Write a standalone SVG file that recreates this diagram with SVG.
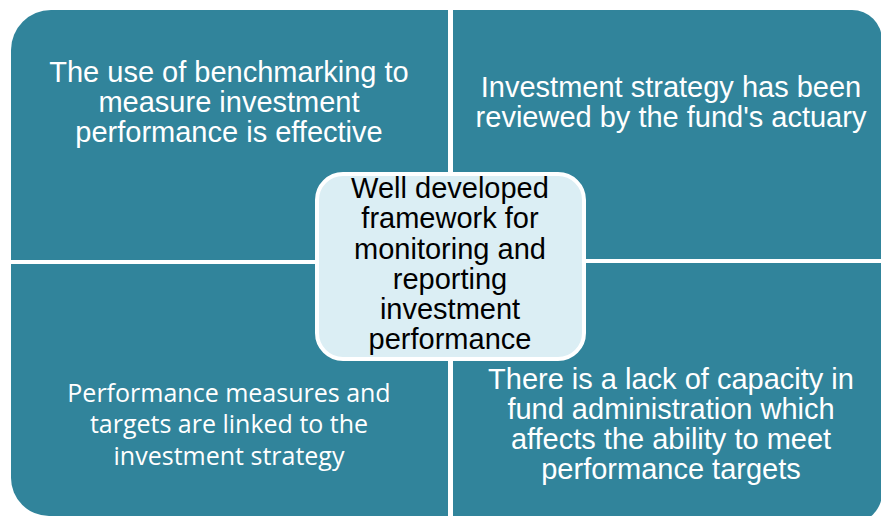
<svg xmlns="http://www.w3.org/2000/svg" width="881" height="516" viewBox="0 0 881 516">
  <style>
    .quad { fill: #31849B; }
    .hub { fill: #DBEEF4; stroke: #FFFFFF; stroke-width: 4; }
    .t { font-family: "Liberation Sans", Arial, sans-serif; font-size: 29px; fill: #FFFFFF; text-anchor: middle; }
    .c { font-family: "Open Sans", "Noto Sans", sans-serif; font-size: 25px; fill: #FFFFFF; text-anchor: middle; }
    .h { font-family: "Liberation Sans", Arial, sans-serif; font-size: 29px; fill: #000000; text-anchor: middle; }
  </style>
  <rect width="881" height="516" fill="#FFFFFF"/>

  <g id="quadrant-top-left">
    <path class="quad" d="M11,50 A40,40 0 0 1 51,10 H448 V260 H11 Z"/>
    <text class="t" x="229" y="82">The use of benchmarking to</text>
    <text class="t" x="229" y="112">measure investment</text>
    <text class="t" x="229" y="142">performance is effective</text>
  </g>

  <g id="quadrant-top-right">
    <path class="quad" d="M453,10 H852 A30,30 0 0 1 882,40 V259 H453 Z"/>
    <text class="t" x="671" y="97">Investment strategy has been</text>
    <text class="t" x="671" y="127">reviewed by the fund's actuary</text>
  </g>

  <g id="quadrant-bottom-left">
    <path class="quad" d="M11,264 H448 V516 H49 A38,38 0 0 1 11,478 Z"/>
    <text class="c" x="229" y="402">Performance measures and</text>
    <text class="c" x="229" y="433">targets are linked to the</text>
    <text class="c" x="229" y="465">investment strategy</text>
  </g>

  <g id="quadrant-bottom-right">
    <path class="quad" d="M453,263 H882 V493 A30,30 0 0 1 852,523 H453 Z"/>
    <text class="t" x="671" y="389">There is a lack of capacity in</text>
    <text class="t" x="671" y="419">fund administration which</text>
    <text class="t" x="671" y="449">affects the ability to meet</text>
    <text class="t" x="671" y="479">performance targets</text>
  </g>

  <g id="hub">
    <rect class="hub" x="317" y="174" width="267" height="185" rx="26" ry="26"/>
    <text class="h" x="450" y="198">Well developed</text>
    <text class="h" x="450" y="228">framework for</text>
    <text class="h" x="450" y="259">monitoring and</text>
    <text class="h" x="450" y="289">reporting</text>
    <text class="h" x="450" y="319">investment</text>
    <text class="h" x="450" y="349">performance</text>
  </g>

  <g id="connectors"/>
</svg>
